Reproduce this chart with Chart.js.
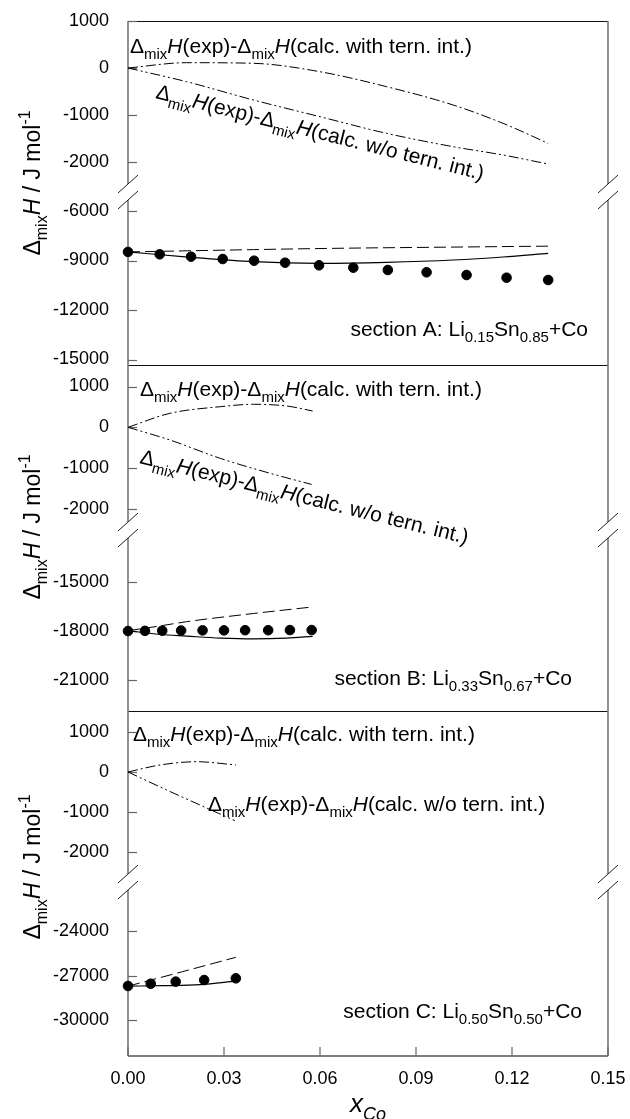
<!DOCTYPE html>
<html>
<head>
<meta charset="utf-8">
<script src="https://cdn.jsdelivr.net/npm/chart.js@4.4.1/dist/chart.umd.min.js"></script>
<style>
  body { margin: 0; background: #fff; overflow: hidden; }
  #wrap { width: 630px; height: 1119px; }
</style>
</head>
<body>
<div id="wrap"><canvas id="c"></canvas></div>
<script>
// ---- section A: Li0.15Sn0.85 + Co ----
const xA_exp = [0, 0.0099, 0.0197, 0.0296, 0.0394, 0.0491, 0.0597, 0.0704, 0.0812, 0.0933, 0.1058, 0.1183, 0.1313]
const hA_exp = [-8480, -8624, -8769, -8909, -9012, -9133, -9291, -9436, -9576, -9715, -9879, -10042, -10181]
const xA_with = [0, 0.0197, 0.0392, 0.06, 0.0808, 0.1016, 0.1172, 0.1313]
const hA_with = [-8480, -8806, -9073, -9170, -9109, -8970, -8788, -8564]
const xA_wo = [0, 0.0392, 0.0653, 0.1, 0.1313]
const hA_wo = [-8480, -8340, -8260, -8190, -8130]
const xA_diff = [0, 0.0183, 0.0392, 0.06, 0.0808, 0.1016, 0.1172, 0.1313]
const dA_with = [0, 113, 100, -79, -397, -787, -1177, -1603]
const dA_wo = [0, -291, -681, -1036, -1390, -1674, -1851, -2043]

// ---- section B: Li0.33Sn0.67 + Co ----
const xB_exp = [0, 0.0053, 0.0107, 0.0166, 0.0233, 0.03, 0.0366, 0.0438, 0.0506, 0.0574]
const hB_exp = [-18020, -18010, -18000, -17990, -17980, -17980, -17970, -17970, -17960, -17960]
const xB_with = [0, 0.01, 0.0183, 0.0288, 0.0392, 0.0496, 0.0577]
const hB_with = [-18000, -18230, -18330, -18450, -18500, -18450, -18340]
const xB_wo = [0, 0.009, 0.0183, 0.0392, 0.0577]
const hB_wo = [-18000, -17740, -17450, -16950, -16550]
const xB_dwith = [0, 0.0131, 0.0288, 0.0392, 0.0496, 0.0577]
const dB_with = [0, 343, 505, 564, 522, 400]
const xB_dwo = [0, 0.0131, 0.0288, 0.0444, 0.0574]
const dB_wo = [0, -311, -760, -1127, -1400]

// ---- section C: Li0.50Sn0.50 + Co ----
const xC_exp = [0, 0.0071, 0.0149, 0.0238, 0.0337]
const hC_exp = [-27690, -27540, -27400, -27290, -27175]
const xC_with = [0, 0.0112, 0.0225, 0.0337]
const hC_with = [-27700, -27670, -27600, -27360]
const xC_wo = [0, 0.017, 0.0337]
const hC_wo = [-27700, -26730, -25764]
const xC_dwith = [0, 0.01, 0.0215, 0.0337]
const dC_with = [0, 175, 257, 175]
const xC_dwo = [0, 0.0121, 0.0225, 0.0334]
const dC_wo = [0, -449, -823, -1214]

// tick labels
const xTicks = [0, 0.03, 0.06, 0.09, 0.12, 0.15]
const ticksAu = [1000, 0, -1000, -2000]
const ticksAl = [-6000, -9000, -12000, -15000]
const ticksBu = [1000, 0, -1000, -2000]
const ticksBl = [-15000, -18000, -21000]
const ticksCu = [1000, 0, -1000, -2000]
const ticksCl = [-24000, -27000, -30000]

const FAM = "'Liberation Sans', Arial, sans-serif"

const pts = (xs, ys) => xs.map((x, i) => ({ x, y: ys[i] }))

const WITH = [10, 3, 2, 3]
const WO = [10, 3, 2, 3, 2, 3]
const DASH = [12, 5]

function lineSet(xs, ys, axis, dash, width) {
    return {
        data: pts(xs, ys), yAxisID: axis, borderColor: "#000", borderWidth: width || 1,
        borderDash: dash || [], pointRadius: 0, cubicInterpolationMode: "monotone", fill: false, clip: false
    }
}
function dotSet(xs, ys, axis) {
    return {
        data: pts(xs, ys), yAxisID: axis, showLine: false, pointRadius: 4.8,
        pointBackgroundColor: "#000", pointBorderColor: "#000", borderColor: "#000", clip: false
    }
}

function yAxis(min, max, weight, ticks) {
    return {
        type: "linear", position: "left", stack: "h", stackWeight: weight, min, max,
        grid: { display: false }, border: { display: false },
        afterBuildTicks: s => { s.ticks = ticks.map(v => ({ value: v })) },
        afterFit: s => { s.width = 128; s.paddingTop = 0; s.paddingBottom = 0 },
        ticks: { padding: 11, color: "#000", font: { family: FAM, size: 18 }, callback: v => String(v) }
    }
}

// label with sub/superscripts: segs = [[text, kind]], kind may hold "sub", "sup", "it"
function rich(ctx, segs, x, y, size, align) {
    const small = Math.round(size * 0.7)
    const f = k => (k.includes("it") ? "italic " : "") + (k.includes("sub") || k.includes("sup") ? small : size) + "px " + FAM
    let w = 0
    segs.forEach(([t, k]) => { ctx.font = f(k); w += ctx.measureText(t).width })
    let cx = align === "right" ? x - w : align === "center" ? x - w / 2 : x
    segs.forEach(([t, k]) => {
        ctx.font = f(k)
        const dy = k.includes("sub") ? size * 0.3 : k.includes("sup") ? -size * 0.42 : 0
        ctx.fillText(t, cx, y + dy)
        cx += ctx.measureText(t).width
    })
}

const lblWith = [["Δ", ""], ["mix", "sub"], ["H", "it"], ["(exp)-", ""], ["Δ", ""], ["mix", "sub"], ["H", "it"], ["(calc. with tern. int.)", ""]]
const lblWo = [["Δ", ""], ["mix", "sub"], ["H", "it"], ["(exp)-", ""], ["Δ", ""], ["mix", "sub"], ["H", "it"], ["(calc. w/o tern. int.)", ""]]
const yTitle = [["Δ", ""], ["mix", "sub"], ["H", "it"], [" / J mol", ""], ["-1", "sup"]]
const xTitle = [["x", "it"], ["Co", "it sub"]]
const secA = [["section A: Li", ""], ["0.15", "sub"], ["Sn", ""], ["0.85", "sub"], ["+Co", ""]]
const secB = [["section B: Li", ""], ["0.33", "sub"], ["Sn", ""], ["0.67", "sub"], ["+Co", ""]]
const secC = [["section C: Li", ""], ["0.50", "sub"], ["Sn", ""], ["0.50", "sub"], ["+Co", ""]]

const panels = [["yAu", "yAl"], ["yBu", "yBl"], ["yCu", "yCl"]]

const frame = {
    id: "frame",
    beforeDatasetsDraw(chart) {
        const { ctx, chartArea: a, scales: s } = chart
        const L = a.left, R = a.right, gap = 8
        ctx.save()
        ctx.lineCap = "butt"
        // horizontal frame lines
        ctx.strokeStyle = "#111"
        ctx.lineWidth = 1.2
        ;[a.top, s.yAl.bottom, s.yBl.bottom].forEach(y => {
            ctx.beginPath(); ctx.moveTo(L, Math.round(y) + 0.5); ctx.lineTo(R, Math.round(y) + 0.5); ctx.stroke()
        })
        ctx.strokeStyle = "#555"
        ctx.lineWidth = 1.5
        ctx.beginPath(); ctx.moveTo(L, a.bottom); ctx.lineTo(R, a.bottom); ctx.stroke()
        // vertical lines with breaks
        panels.forEach(([u, l]) => {
            const top = s[u].top, mid = s[u].bottom, bot = s[l].bottom
            ;[L, R].forEach(x => {
                ctx.strokeStyle = "#777"
                ctx.lineWidth = 1.6
                ctx.beginPath()
                ctx.moveTo(x, top); ctx.lineTo(x, mid - gap)
                ctx.moveTo(x, mid + gap); ctx.lineTo(x, bot)
                ctx.stroke()
                ctx.strokeStyle = "#222"
                ctx.lineWidth = 1
                ;[mid - gap, mid + gap].forEach(c => {
                    ctx.beginPath(); ctx.moveTo(x - 10, c + 9); ctx.lineTo(x + 10, c - 9); ctx.stroke()
                })
            })
        })
        // inward tick marks
        ctx.strokeStyle = "#666"
        ctx.lineWidth = 1.2
        ;["yAu", "yAl", "yBu", "yBl", "yCu", "yCl"].forEach(id => {
            s[id].ticks.forEach(t => {
                const y = Math.round(s[id].getPixelForValue(t.value)) + 0.5
                ctx.beginPath(); ctx.moveTo(L, y); ctx.lineTo(L + 9, y); ctx.stroke()
            })
        })
        s.x.ticks.forEach(t => {
            const x = s.x.getPixelForValue(t.value)
            ctx.beginPath(); ctx.moveTo(x, a.bottom); ctx.lineTo(x, a.bottom - 9); ctx.stroke()
        })
        ctx.restore()
    },
    afterDatasetsDraw(chart) {
        const { ctx } = chart
        ctx.save()
        ctx.fillStyle = "#000"
        ctx.textBaseline = "alphabetic"
        // panel A
        rich(ctx, lblWith, 130, 53, 21, "left")
        ctx.save(); ctx.translate(155, 98); ctx.rotate(Math.atan(0.251)); rich(ctx, lblWo, 0, 0, 21, "left"); ctx.restore()
        rich(ctx, secA, 588, 336, 21, "right")
        // panel B
        rich(ctx, lblWith, 140, 396, 21, "left")
        ctx.save(); ctx.translate(139, 463); ctx.rotate(Math.atan(0.247)); rich(ctx, lblWo, 0, 0, 21, "left"); ctx.restore()
        rich(ctx, secB, 572, 685, 21, "right")
        // panel C
        rich(ctx, lblWith, 133, 741, 21, "left")
        rich(ctx, lblWo, 208, 811, 21, "left")
        rich(ctx, secC, 582, 1018, 21, "right")
        // y titles
        ;[183, 527, 867].forEach(cy => {
            ctx.save(); ctx.translate(40, cy); ctx.rotate(-Math.PI / 2); rich(ctx, yTitle, 0, 0, 23, "center"); ctx.restore()
        })
        // x title
        rich(ctx, xTitle, 368, 1112, 26, "center")
        ctx.restore()
    }
}

new Chart(document.getElementById("c"), {
    type: "line",
    data: {
        datasets: [
            dotSet(xA_exp, hA_exp, "yAl"),
            lineSet(xA_with, hA_with, "yAl", null, 1.2),
            lineSet(xA_wo, hA_wo, "yAl", DASH),
            lineSet(xA_diff, dA_with, "yAu", WITH),
            lineSet(xA_diff, dA_wo, "yAu", WO),
            dotSet(xB_exp, hB_exp, "yBl"),
            lineSet(xB_with, hB_with, "yBl", null, 1.2),
            lineSet(xB_wo, hB_wo, "yBl", DASH),
            lineSet(xB_dwith, dB_with, "yBu", WITH),
            lineSet(xB_dwo, dB_wo, "yBu", WO),
            dotSet(xC_exp, hC_exp, "yCl"),
            lineSet(xC_with, hC_with, "yCl", null, 1.2),
            lineSet(xC_wo, hC_wo, "yCl", DASH),
            lineSet(xC_dwith, dC_with, "yCu", WITH),
            lineSet(xC_dwo, dC_wo, "yCu", WO),
        ]
    },
    options: {
        responsive: true,
        maintainAspectRatio: false,
        animation: false,
        layout: { padding: { top: 21, right: 22, bottom: 0, left: 0 } },
        plugins: { legend: { display: false }, tooltip: { enabled: false } },
        scales: {
            x: {
                type: "linear", position: "bottom", min: 0, max: 0.15,
                grid: { display: false }, border: { display: false },
                afterBuildTicks: s => { s.ticks = xTicks.map(v => ({ value: v })) },
                afterFit: s => { s.height = 63; s.paddingLeft = 0; s.paddingRight = 0 },
                ticks: { padding: 4, color: "#000", font: { family: FAM, size: 18 }, callback: v => v.toFixed(2), maxRotation: 0 }
            },
            // stacked left axes, listed bottom to top
            yCl: yAxis(-32395, -20704, 174, ticksCl),
            yCu: yAxis(-2743, 1521, 171, ticksCu),
            yBl: yAxis(-22901, -11853, 181, ticksBl),
            yBu: yAxis(-2517, 1527, 165, ticksBu),
            yAl: yAxis(-15333, -4848, 173, ticksAl),
            yAu: yAxis(-2638, 1000, 171, ticksAu)
        }
    },
    plugins: [frame]
})
</script>
</body>
</html>
